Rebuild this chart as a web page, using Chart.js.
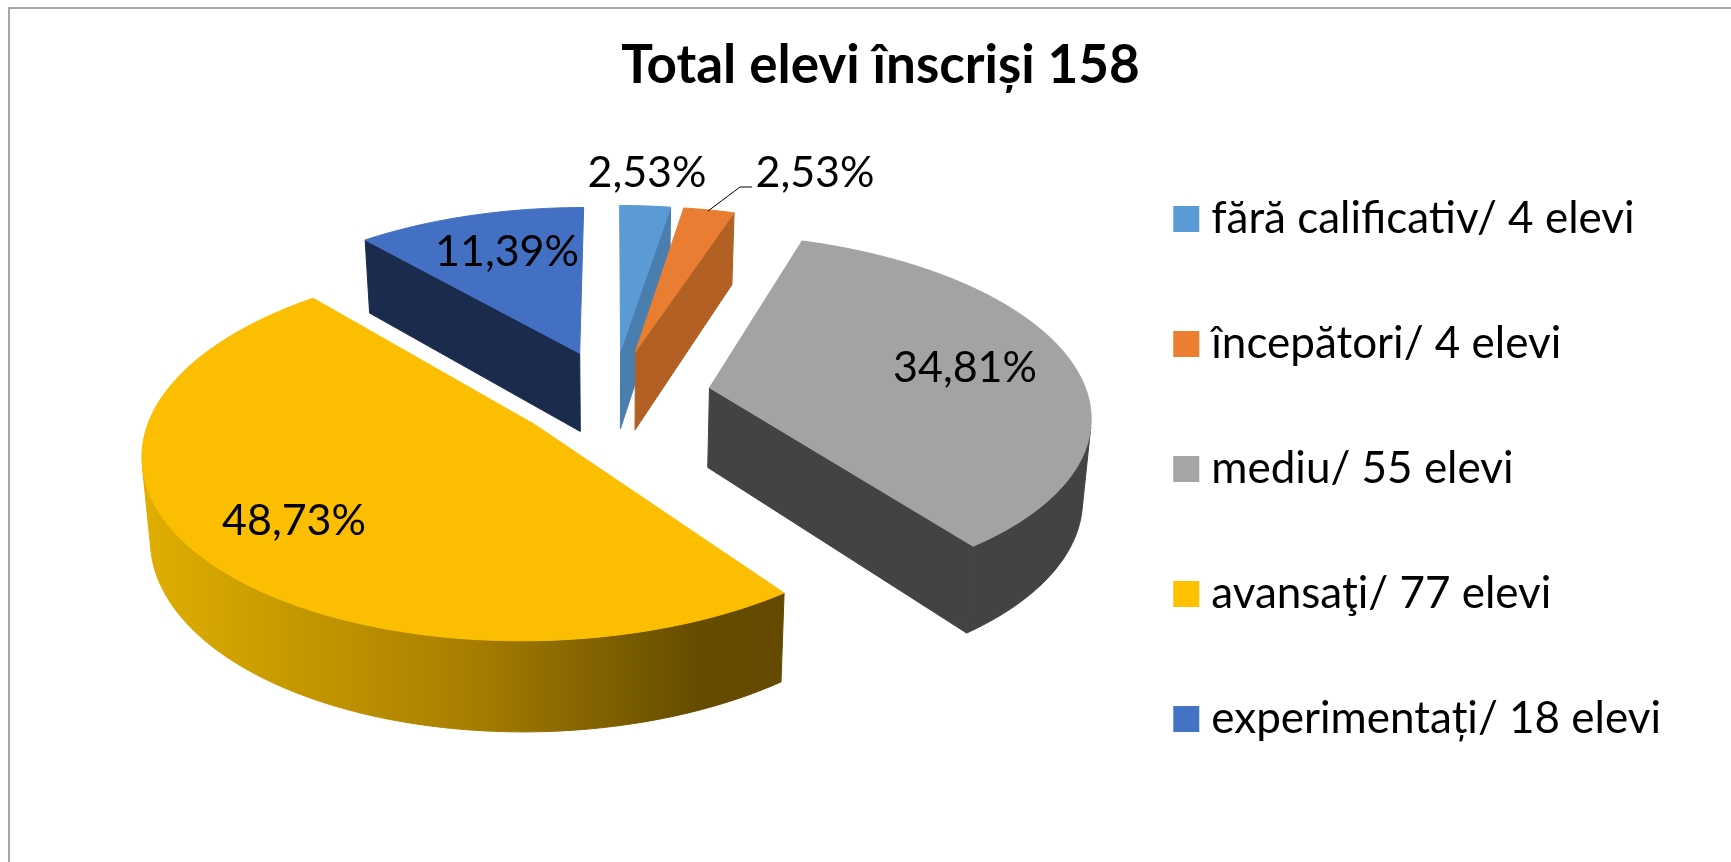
<!DOCTYPE html>
<html lang="ro">
<head>
<meta charset="utf-8">
<title>Total elevi înscriși 158</title>
<style>
html,body{margin:0;padding:0;background:#fff;overflow:hidden}
#wrap{position:absolute;left:0;top:0;width:1731px;height:862px}
</style>
<script src="https://cdn.jsdelivr.net/npm/chart.js@4/dist/chart.umd.js"></script>
</head>
<body>
<div id="wrap"><canvas id="c" width="1731" height="862"></canvas></div>
<script>
// ---- data ----
const titleText = 'Total elevi înscriși 158';
const categories = ['fără calificativ/ 4 elevi','începători/ 4 elevi','mediu/ 55 elevi','avansaţi/ 77 elevi','experimentați/ 18 elevi'];
const values = [4,4,55,77,18];
const percentLabels = ['2,53%','2,53%','34,81%','48,73%','11,39%'];
const topColors = ['#5B9BD5','#ED7D31','#A5A5A5','#FFC000','#4472C4'];
const faceColors = ['#5B9BD5','#E97D32','#A3A3A3','#FBBE00','#4370C2'];
const wallColors = ['#4A7EAE','#B26024','#434343',null,'#1A2B4D'];

// ---- view settings (projection of the pie plane) ----
const FONT = 'Lato, Carlito, Calibri, sans-serif';
const view = {ox:613, oy:395, rx:378, ry:177, persp:0.14, inset:0.982};
const drawOrder = [0,1,4,2,3];
const labelAnchors = [[647,173],[815,173],[965,368],[294,521],[507,252]];
const explodeRatio = 0.26;

function project(x,y){
  const w = 1 - view.persp*y;
  return [view.ox + view.rx*x/w, view.oy + view.ry*y/w];
}
function lower(p){
  const depth = 78 + (p[1]-350)*0.045;
  return [view.ox + (p[0]-view.ox)*view.inset, p[1]+depth];
}
function area(poly){
  let a=0;
  for(let i=0;i<poly.length;i++){
    const p=poly[i], q=poly[(i+1)%poly.length];
    a+=p[0]*q[1]-q[0]*p[1];
  }
  return a/2;
}
function fillPoly(ctx,poly,fill){
  ctx.beginPath();
  poly.forEach((p,i)=> i?ctx.lineTo(p[0],p[1]):ctx.moveTo(p[0],p[1]));
  ctx.closePath();
  ctx.fillStyle=fill;
  ctx.fill();
  ctx.strokeStyle=fill;
  ctx.lineWidth=1;
  ctx.stroke();
}

const pie3d = {
  id:'pie3d',
  beforeDraw(chart){
    const ctx=chart.ctx;
    ctx.save();
    ctx.fillStyle='#fff';
    ctx.fillRect(0,0,chart.width,chart.height);
    ctx.strokeStyle='#a6a6a6';
    ctx.lineWidth=2;
    ctx.beginPath();
    ctx.moveTo(9,chart.height);
    ctx.lineTo(9,8);
    ctx.lineTo(chart.width,8);
    ctx.stroke();
    ctx.restore();
  },
  beforeDatasetsDraw(chart){
    const ctx=chart.ctx, arcs=chart.getDatasetMeta(0).data;
    const grad=ctx.createLinearGradient(147,0,786,0);
    grad.addColorStop(0,'#E0AE00');
    grad.addColorStop(0.5,'#A87F00');
    grad.addColorStop(0.86,'#664C00');
    grad.addColorStop(1,'#644A00');
    ctx.save();
    drawOrder.forEach(i=>{
      const arc=arcs[i];
      const mid=(arc.startAngle+arc.endAngle)/2;
      const ex=Math.cos(mid)*explodeRatio, ey=Math.sin(mid)*explodeRatio;
      const n=Math.max(6,Math.ceil((arc.endAngle-arc.startAngle)*60));
      const rim=[];
      for(let k=0;k<=n;k++){
        const a=arc.startAngle+(arc.endAngle-arc.startAngle)*k/n;
        rim.push(project(Math.cos(a)+ex,Math.sin(a)+ey));
      }
      const apex=project(ex,ey);
      const wall=wallColors[i]||grad;
      // cut faces whose outward normal points towards the viewer
      if(Math.sin(arc.startAngle-Math.PI/2)>0.02){
        fillPoly(ctx,[apex,rim[0],lower(rim[0]),lower(apex)],wall);
      }
      if(Math.sin(arc.endAngle+Math.PI/2)>0.02){
        fillPoly(ctx,[apex,rim[n],lower(rim[n]),lower(apex)],wall);
      }
      // curved wall: visible rim stretches as single polygons
      let run=[];
      const flush=()=>{
        if(run.length>1) fillPoly(ctx,run.concat(run.slice().reverse().map(lower)),wall);
        run=[];
      };
      for(let k=0;k<n;k++){
        const q=[rim[k],rim[k+1],lower(rim[k+1]),lower(rim[k])];
        if(area(q)<0){
          if(!run.length) run.push(rim[k]);
          run.push(rim[k+1]);
        } else flush();
      }
      flush();
      fillPoly(ctx,[apex].concat(rim),faceColors[i]);
    });
    ctx.restore();
    return false;
  },
  afterDraw(chart){
    const ctx=chart.ctx;
    ctx.save();
    ctx.strokeStyle='#000';
    ctx.lineWidth=1;
    ctx.beginPath();
    ctx.moveTo(708,211);ctx.lineTo(740,187);ctx.lineTo(752,187);
    ctx.stroke();
    ctx.fillStyle='#000';
    ctx.font='43px '+FONT;
    ctx.textAlign='center';
    ctx.textBaseline='middle';
    percentLabels.forEach((t,i)=>ctx.fillText(t,labelAnchors[i][0],labelAnchors[i][1]));
    ctx.restore();
  }
};

new Chart(document.getElementById('c'),{
  type:'pie',
  data:{labels:categories,datasets:[{data:values,backgroundColor:topColors,borderWidth:0,offset:60}]},
  plugins:[pie3d],
  options:{
    responsive:false,
    animation:false,
    layout:{padding:{left:90,right:60,top:0,bottom:40}},
    plugins:{
      tooltip:{enabled:false},
      title:{display:true,text:titleText,color:'#000',font:{family:FONT,size:53,weight:'bold'},padding:{top:34,bottom:60}},
      legend:{
        display:true,position:'right',align:'end',
        labels:{color:'#000',font:{family:FONT,size:44},usePointStyle:true,pointStyle:'rect',boxWidth:6,boxHeight:26,padding:81}
      }
    }
  }
});
</script>
</body>
</html>
